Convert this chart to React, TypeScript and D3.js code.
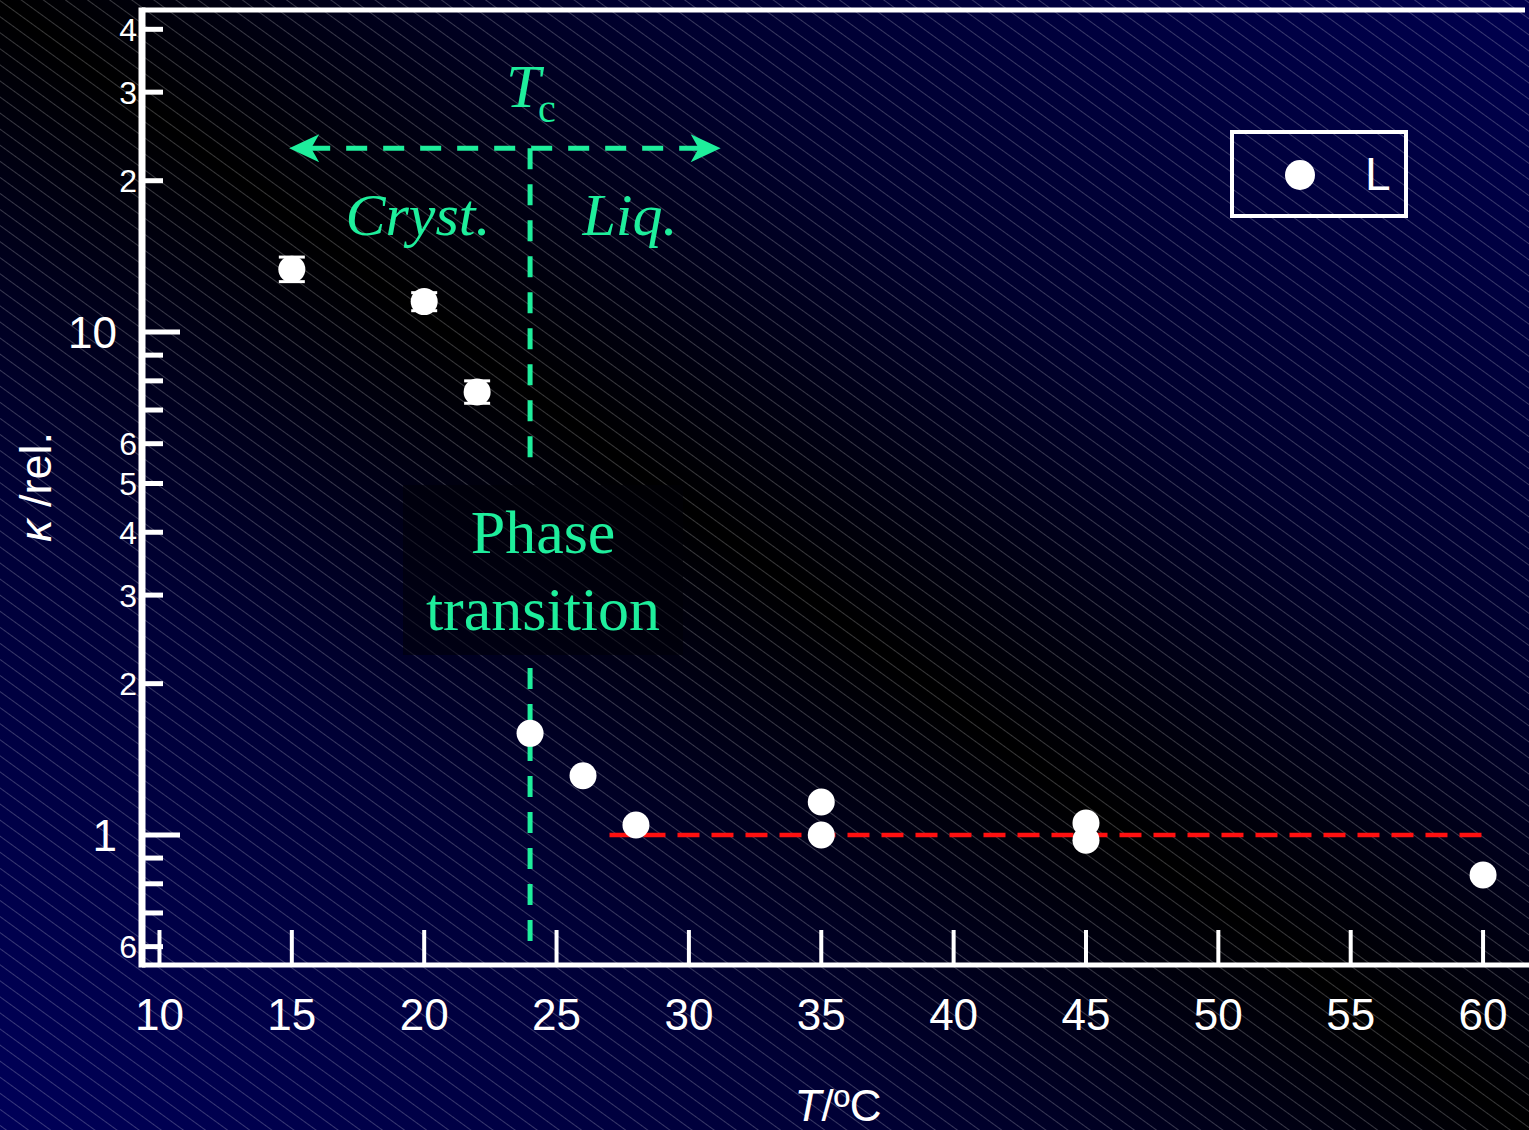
import React, { useEffect } from "react";
import * as d3 from "d3";

// measured data (temperature °C, relative kappa)
const temps = [15, 20, 22, 24, 26, 28, 35, 35, 45, 45, 60];
const kappa = [13.34, 11.5, 7.6, 1.593, 1.312, 1.047, 1.163, 1.0, 1.057, 0.977, 0.833];
const errLo = [12.6, 11.03, 7.22, null, null, null, null, null, null, null, null];
const errHi = [14.1, 11.98, 8.0, null, null, null, null, null, null, null, null];

const xTicks = [10, 15, 20, 25, 30, 35, 40, 45, 50, 55, 60];
const yMajor = [1, 10];
const yMajorLabels = ["1", "10"];
const yMinor = [0.6, 0.7, 0.8, 0.9, 2, 3, 4, 5, 6, 7, 8, 9, 20, 30, 40];
const yMinorLabels = ["6", "", "", "", "2", "3", "4", "5", "6", "", "", "", "2", "3", "4"];

// annotations (data space)
const tc = 24;
const arrowFrom = 14.9;
const arrowTo = 31.2;
const arrowLevel = 23.2;
const refLevel = 1;
const refFrom = 27;
const refTo = 60;

const W = 1529;
const H = 1130;
const GREEN = "#1EEE9C";
const SANS = "'Liberation Sans', Arial, sans-serif";
const SERIF = "'Liberation Serif', 'Times New Roman', serif";

export default function App() {
  useEffect(() => {
    document.body.style.margin = "0";
    document.body.style.overflow = "hidden";
  }, []);

  const x = d3.scaleLinear().domain([9.34, 61.66]).range([142, 1527]);
  const y = d3.scaleLog().domain([0.5516, 43.7]).range([965, 10]);

  const axisLeft = x.range()[0];
  const axisBottom = y.range()[0];
  const axisTop = y.range()[1];

  // dart-shaped arrow head pointing along dir (+1 right, -1 left)
  const arrowHead = (px: number, py: number, dir: number) => {
    const L = 30, Hh = 14, notch = 8;
    return `M${px},${py} L${px - dir * L},${py - Hh} L${px - dir * (L - notch)},${py} L${px - dir * L},${py + Hh} Z`;
  };

  const ay = y(arrowLevel);

  return (
    <svg width={W} height={H} style={{ display: "block" }}>
      <defs>
        <linearGradient id="bg" x1="1" y1="0" x2="0" y2="1">
          <stop offset="0" stopColor="#00004e" />
          <stop offset="0.3" stopColor="#00002e" />
          <stop offset="0.5" stopColor="#000000" />
          <stop offset="0.72" stopColor="#000036" />
          <stop offset="1" stopColor="#000058" />
        </linearGradient>
        <pattern id="hatch" width="13" height="13" patternUnits="userSpaceOnUse" patternTransform="rotate(36)">
          <line x1="0" y1="0.5" x2="13" y2="0.5" stroke="rgba(255,255,255,0.22)" strokeWidth={1} />
        </pattern>
      </defs>
      <rect width={W} height={H} fill="url(#bg)" />
      <rect width={W} height={H} fill="url(#hatch)" />

      {/* phase transition backdrop */}
      <rect x={403} y={485} width={280} height={170} fill="#000008" opacity={0.55} />

      {/* frame */}
      <line x1={axisLeft} x2={1525} y1={axisTop} y2={axisTop} stroke="#fff" strokeWidth={5} />
      <line x1={axisLeft} x2={W} y1={axisBottom} y2={axisBottom} stroke="#fff" strokeWidth={5} />
      <line x1={axisLeft} x2={axisLeft} y1={axisTop - 2.5} y2={axisBottom + 2.5} stroke="#fff" strokeWidth={7} />

      {/* x ticks */}
      {xTicks.map((t) => (
        <g key={"x" + t}>
          <line x1={x(t)} x2={x(t)} y1={axisBottom} y2={axisBottom - 35} stroke="#fff" strokeWidth={4} />
          <text x={x(t)} y={1030} textAnchor="middle" fill="#fff" fontFamily={SANS} fontSize={44}>{t}</text>
        </g>
      ))}

      {/* y ticks */}
      {yMajor.map((t, i) => (
        <g key={"ym" + t}>
          <line x1={axisLeft} x2={180} y1={y(t)} y2={y(t)} stroke="#fff" strokeWidth={5} />
          <text x={117} y={y(t)} dy="0.36em" textAnchor="end" fill="#fff" fontFamily={SANS} fontSize={44}>{yMajorLabels[i]}</text>
        </g>
      ))}
      {yMinor.map((t, i) => (
        <g key={"yn" + t}>
          <line x1={axisLeft} x2={163} y1={y(t)} y2={y(t)} stroke="#fff" strokeWidth={5} />
          {yMinorLabels[i] && (
            <text x={137} y={y(t)} dy="0.36em" textAnchor="end" fill="#fff" fontFamily={SANS} fontSize={32}>{yMinorLabels[i]}</text>
          )}
        </g>
      ))}

      {/* axis titles */}
      <text x={838} y={1121} textAnchor="middle" fill="#fff" fontFamily={SANS} fontSize={44}>
        <tspan fontStyle="italic">T</tspan>/ºC
      </text>
      <text transform="translate(51,487) rotate(-90)" textAnchor="middle" fill="#fff" fontFamily={SANS} fontSize={45}>
        <tspan fontStyle="italic">κ</tspan> /rel.
      </text>

      {/* reference line at kappa = 1 */}
      <line x1={x(refFrom)} x2={x(refTo)} y1={y(refLevel)} y2={y(refLevel)} stroke="#ff1010" strokeWidth={4.5} strokeDasharray="22 12" />

      {/* Tc markers */}
      <line x1={x(tc)} x2={x(tc)} y1={ay} y2={470} stroke={GREEN} strokeWidth={5} strokeDasharray="21 15" />
      <line x1={x(tc)} x2={x(tc)} y1={668} y2={y(0.604)} stroke={GREEN} strokeWidth={5} strokeDasharray="21 15" />
      <line x1={x(arrowFrom) + 20} x2={x(arrowTo) - 20} y1={ay} y2={ay} stroke={GREEN} strokeWidth={5} strokeDasharray="21 16" />
      <path d={arrowHead(x(arrowTo), ay, 1)} fill={GREEN} />
      <path d={arrowHead(x(arrowFrom), ay, -1)} fill={GREEN} />

      <text x={x(tc) - 24} y={107} fill={GREEN} fontFamily={SERIF} fontStyle="italic" fontSize={62}>T</text>
      <text x={x(tc) + 8} y={122} fill={GREEN} fontFamily={SERIF} fontSize={40}>c</text>
      <text x={418} y={235} textAnchor="middle" fill={GREEN} fontFamily={SERIF} fontStyle="italic" fontSize={60}>Cryst.</text>
      <text x={630} y={235} textAnchor="middle" fill={GREEN} fontFamily={SERIF} fontStyle="italic" fontSize={60}>Liq.</text>
      <text x={543} y={553} textAnchor="middle" fill={GREEN} fontFamily={SERIF} fontSize={62}>Phase</text>
      <text x={543} y={630} textAnchor="middle" fill={GREEN} fontFamily={SERIF} fontSize={62}>transition</text>

      {/* error bars */}
      {temps.map((t, i) =>
        errLo[i] != null ? (
          <g key={"e" + i} stroke="#fff" strokeWidth={3}>
            <line x1={x(t)} x2={x(t)} y1={y(errLo[i] as number)} y2={y(errHi[i] as number)} />
            <line x1={x(t) - 13} x2={x(t) + 13} y1={y(errLo[i] as number)} y2={y(errLo[i] as number)} />
            <line x1={x(t) - 13} x2={x(t) + 13} y1={y(errHi[i] as number)} y2={y(errHi[i] as number)} />
          </g>
        ) : null
      )}

      {/* points */}
      {temps.map((t, i) => (
        <circle key={"p" + i} cx={x(t)} cy={y(kappa[i])} r={13.5} fill="#fff" />
      ))}

      {/* legend */}
      <rect x={1232} y={132} width={174} height={84} fill="none" stroke="#fff" strokeWidth={4} />
      <circle cx={1300} cy={175} r={15} fill="#fff" />
      <text x={1365} y={190} fill="#fff" fontFamily={SANS} fontSize={46}>L</text>
    </svg>
  );
}
